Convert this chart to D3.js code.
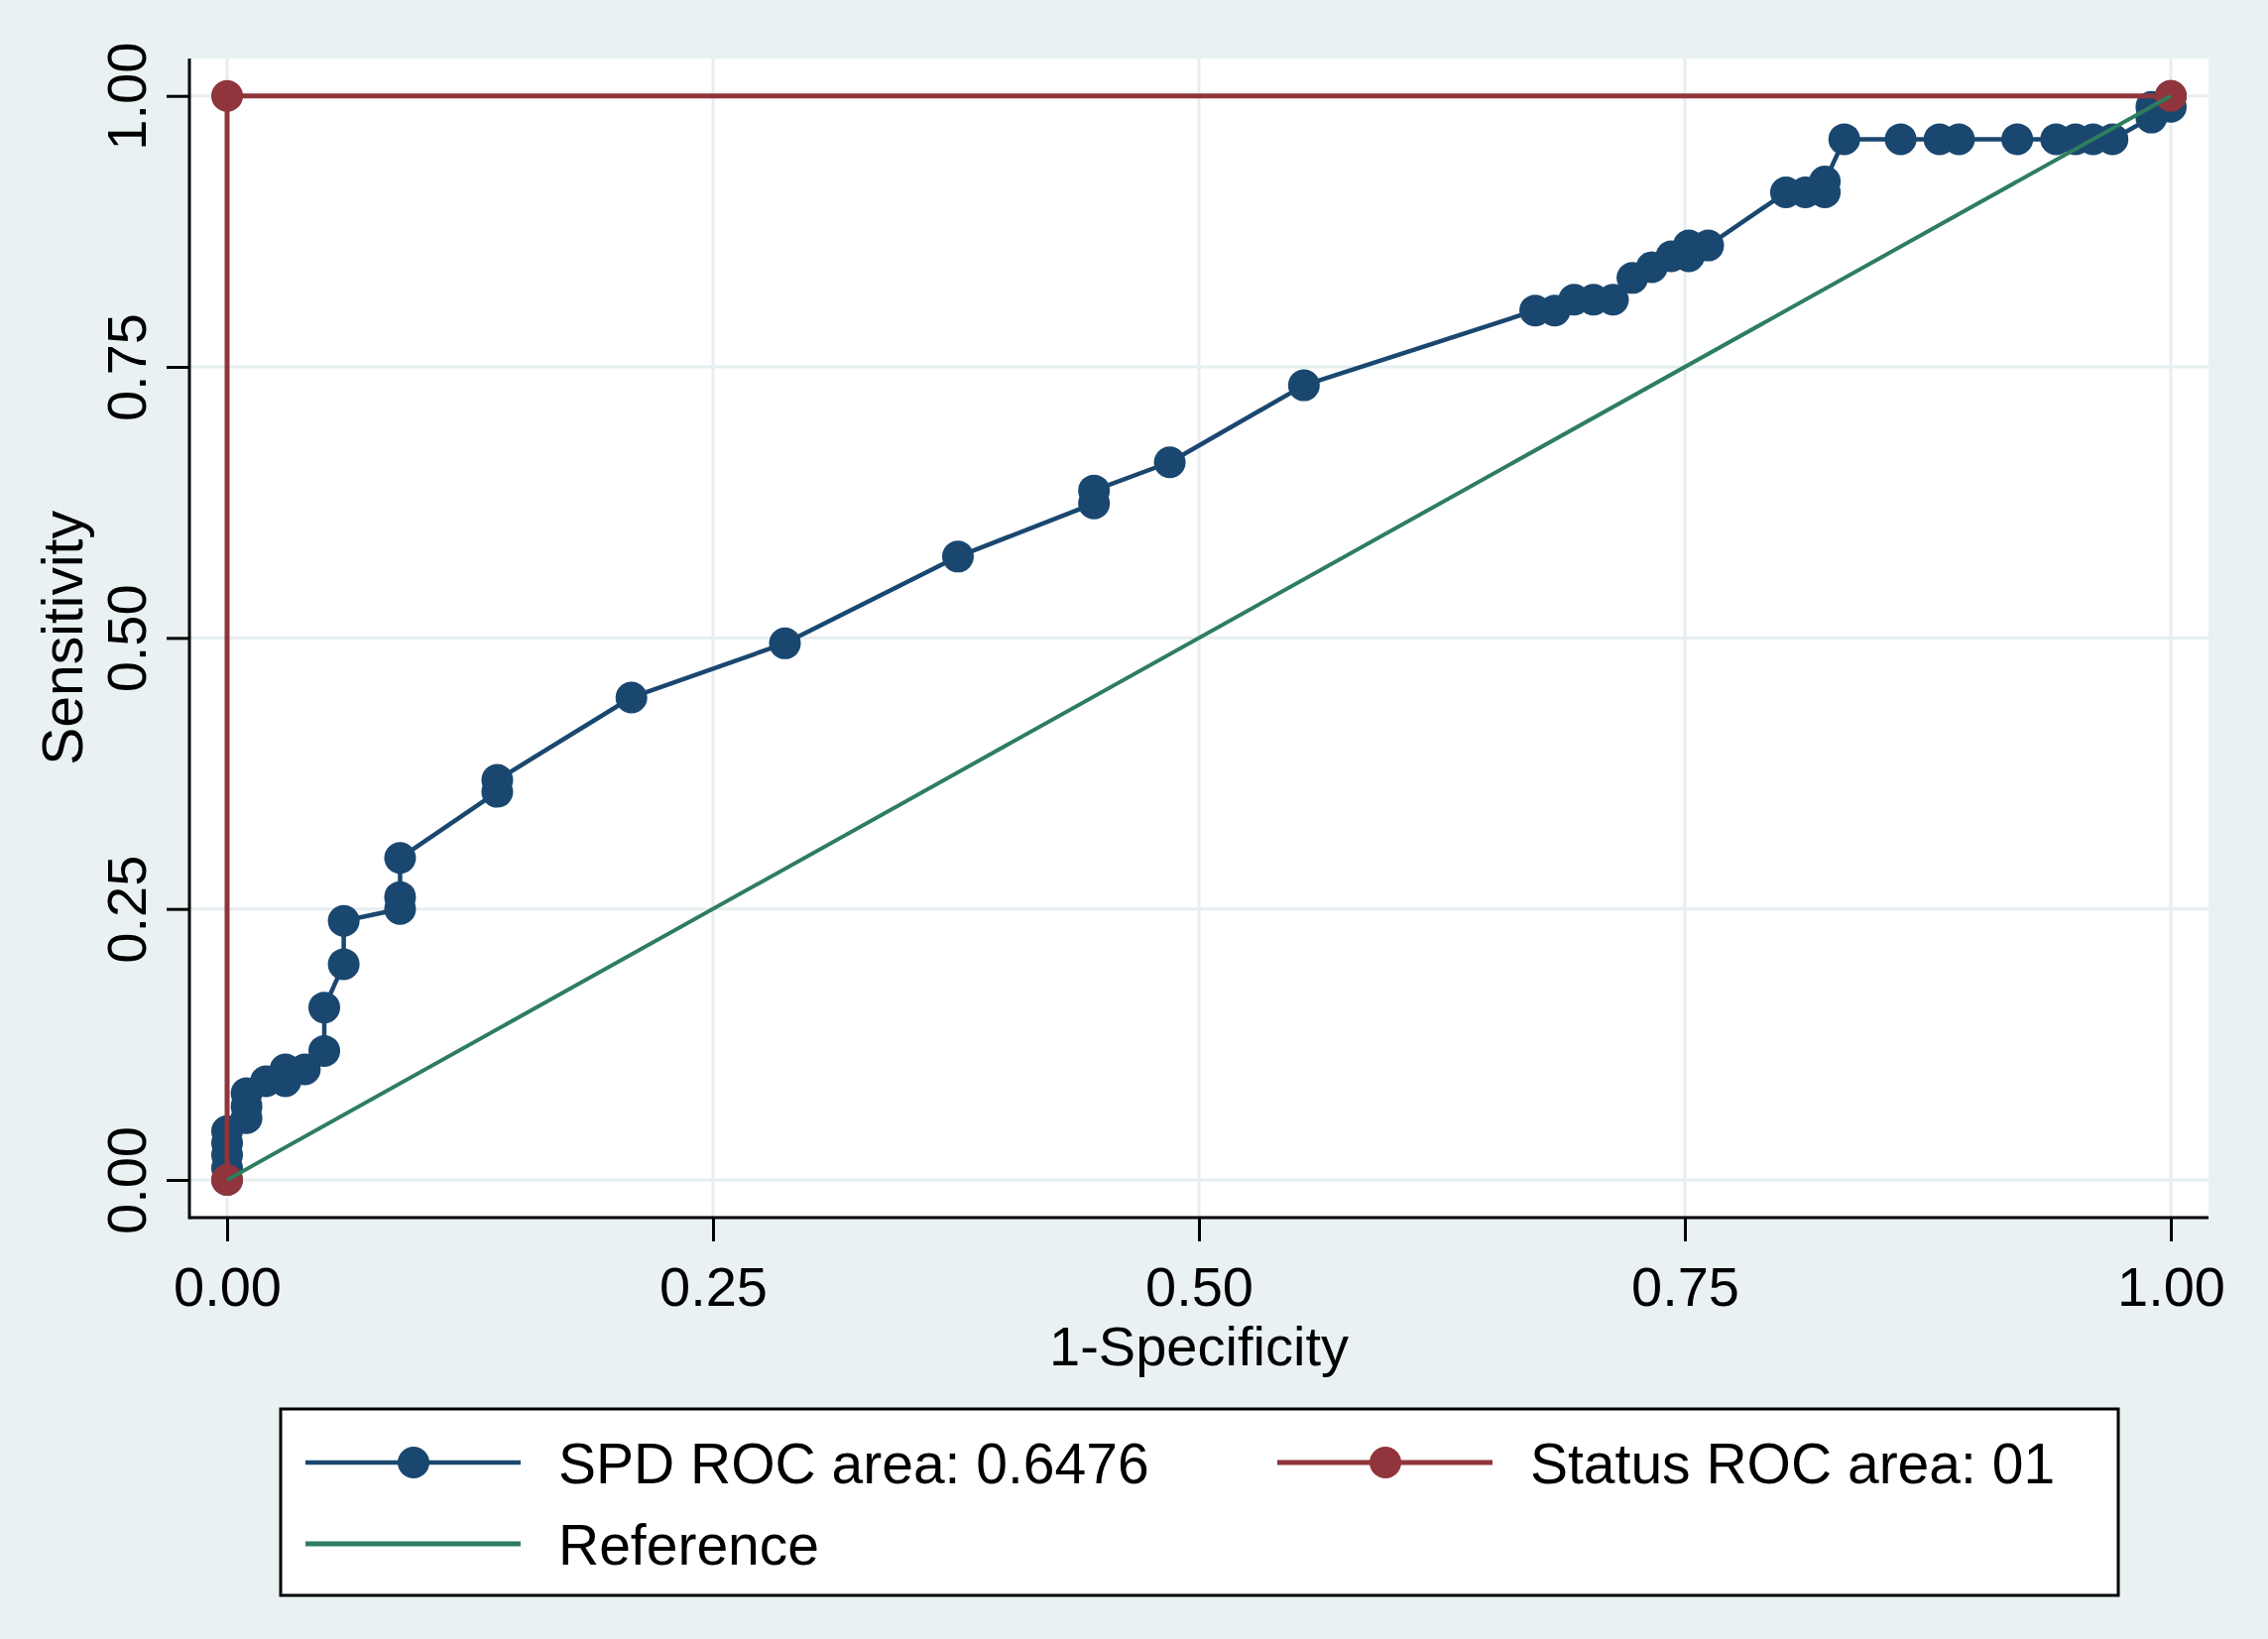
<!DOCTYPE html>
<html>
<head>
<meta charset="utf-8">
<script src="https://cdn.jsdelivr.net/npm/d3@7"></script>
<style>
  html, body { margin: 0; padding: 0; background: #E9F1F3; }
  svg { display: block; }
  text { font-family: "Liberation Sans", Arial, sans-serif; fill: #000; }
</style>
</head>
<body>
<svg id="chart" width="2287" height="1653"></svg>
<script>
// ---- Data ----
const spdX = [0, 0, 0, 0, 0,
  0.010, 0.010, 0.010,
  0.020,
  0.030, 0.030,
  0.040,
  0.050, 0.050,
  0.060, 0.060,
  0.089, 0.089, 0.089,
  0.139, 0.139,
  0.208,
  0.287,
  0.376,
  0.446, 0.446,
  0.485,
  0.554,
  0.673, 0.683,
  0.693, 0.703, 0.713,
  0.723, 0.733, 0.743, 0.752, 0.752, 0.762,
  0.802, 0.812, 0.822, 0.822,
  0.832, 0.861, 0.881, 0.891, 0.921, 0.941, 0.951, 0.960, 0.970,
  0.990, 0.990, 1.000, 1.000];
const spdY = [0, 0.011, 0.023, 0.034, 0.045,
  0.057, 0.068, 0.080,
  0.091,
  0.091, 0.102,
  0.102,
  0.119, 0.159,
  0.199, 0.239,
  0.250, 0.261, 0.297,
  0.358, 0.369,
  0.445,
  0.495,
  0.575,
  0.624, 0.636,
  0.662,
  0.733,
  0.802, 0.802,
  0.812, 0.812, 0.812,
  0.832, 0.842, 0.852, 0.852, 0.862, 0.862,
  0.911, 0.911, 0.911, 0.921,
  0.960, 0.960, 0.960, 0.960, 0.960, 0.960, 0.960, 0.960, 0.960,
  0.980, 0.990, 0.990, 1.000];
const statusX = [0, 0, 1];
const statusY = [0, 1, 1];
const refX = [0, 1];
const refY = [0, 1];
const tickValues = [0, 0.25, 0.5, 0.75, 1];
const tickLabels = ["0.00", "0.25", "0.50", "0.75", "1.00"];
const xTitle = "1-Specificity";
const yTitle = "Sensitivity";
const legendLabels = ["SPD ROC area: 0.6476", "Status ROC area: 01", "Reference"];

// ---- Styles ----
const C_BG = "#E9F1F3", C_GRID = "#E6EEF1";
const C_SPD = "#1A476F", C_STATUS = "#90353B", C_REF = "#2E7D5F";

const svg = d3.select("#chart");
svg.append("rect").attr("width", 2287).attr("height", 1653).attr("fill", C_BG);

const plot = { left: 191, right: 2227, top: 59, bottom: 1228 };
const x = d3.scaleLinear().domain([0, 1]).range([229, 2189]);
const y = d3.scaleLinear().domain([0, 1]).range([1190, 96.7]);

// plot region
svg.append("rect").attr("x", plot.left).attr("y", plot.top)
  .attr("width", plot.right - plot.left).attr("height", plot.bottom - plot.top)
  .attr("fill", "#fff");

// gridlines
const grid = svg.append("g");
grid.selectAll("line.gx").data(tickValues).enter().append("line")
  .attr("x1", d => x(d)).attr("x2", d => x(d))
  .attr("y1", plot.top).attr("y2", plot.bottom)
  .attr("stroke", C_GRID).attr("stroke-width", 3);
grid.selectAll("line.gy").data(tickValues).enter().append("line")
  .attr("y1", d => y(d)).attr("y2", d => y(d))
  .attr("x1", plot.left).attr("x2", plot.right)
  .attr("stroke", C_GRID).attr("stroke-width", 3);

// axes
const xAxis = d3.axisBottom(x).tickValues(tickValues)
  .tickFormat((d, i) => tickLabels[i]).tickSize(24).tickPadding(0);
const gx = svg.append("g").attr("transform", `translate(0,${plot.bottom})`).call(xAxis);
gx.select(".domain").remove();
gx.append("line").attr("x1", plot.left).attr("x2", plot.right).attr("y1", 0).attr("y2", 0)
  .attr("stroke", "#000").attr("stroke-width", 3);
gx.selectAll(".tick line").attr("stroke", "#000").attr("stroke-width", 3);
gx.selectAll(".tick text").attr("y", 89).attr("dy", null)
  .style("font-size", "56px").attr("fill", "#000")
  .style("font-family", '"Liberation Sans", Arial, sans-serif');

const yAxis = d3.axisLeft(y).tickValues(tickValues)
  .tickFormat((d, i) => tickLabels[i]).tickSize(23).tickPadding(0);
const gy = svg.append("g").attr("transform", `translate(${plot.left},0)`).call(yAxis);
gy.select(".domain").remove();
gy.append("line").attr("y1", plot.top).attr("y2", plot.bottom + 1.5).attr("x1", 0).attr("x2", 0)
  .attr("stroke", "#000").attr("stroke-width", 3);
gy.selectAll(".tick line").attr("stroke", "#000").attr("stroke-width", 3);
gy.selectAll(".tick text")
  .attr("x", null).attr("dy", null)
  .attr("transform", "translate(-44,0) rotate(-90)")
  .attr("text-anchor", "middle")
  .style("font-size", "56px").attr("fill", "#000")
  .style("font-family", '"Liberation Sans", Arial, sans-serif');

// axis titles
svg.append("text").attr("x", (x(0) + x(1)) / 2).attr("y", 1377)
  .attr("text-anchor", "middle").style("font-size", "56px").text(xTitle);
svg.append("text")
  .attr("transform", `translate(83,${(y(0) + y(1)) / 2}) rotate(-90)`)
  .attr("text-anchor", "middle").style("font-size", "57px").text(yTitle);

// series
const line = d3.line().x(d => x(d[0])).y(d => y(d[1]));
const spd = spdX.map((v, i) => [v, spdY[i]]);
const status = statusX.map((v, i) => [v, statusY[i]]);
const ref = refX.map((v, i) => [v, refY[i]]);
const R = 16;

svg.append("path").datum(spd).attr("d", line).attr("fill", "none")
  .attr("stroke", C_SPD).attr("stroke-width", 4.5).attr("stroke-linejoin", "round");
svg.append("g").selectAll("circle").data(spd).enter().append("circle")
  .attr("cx", d => x(d[0])).attr("cy", d => y(d[1])).attr("r", R).attr("fill", C_SPD);

svg.append("path").datum(status).attr("d", line).attr("fill", "none")
  .attr("stroke", C_STATUS).attr("stroke-width", 5);
svg.append("g").selectAll("circle").data(status).enter().append("circle")
  .attr("cx", d => x(d[0])).attr("cy", d => y(d[1])).attr("r", R).attr("fill", C_STATUS);

svg.append("path").datum(ref).attr("d", line).attr("fill", "none")
  .attr("stroke", C_REF).attr("stroke-width", 4);

// legend
const lg = svg.append("g");
lg.append("rect").attr("x", 283).attr("y", 1421).attr("width", 2136 - 283).attr("height", 1609 - 1421)
  .attr("fill", "#fff").attr("stroke", "#000").attr("stroke-width", 3);
const legendItems = [
  { label: legendLabels[0], color: C_SPD, marker: true, lx: 308, tx: 563, cy: 1475, w: 4.5 },
  { label: legendLabels[1], color: C_STATUS, marker: true, lx: 1288, tx: 1543, cy: 1475, w: 5 },
  { label: legendLabels[2], color: C_REF, marker: false, lx: 308, tx: 563, cy: 1557, w: 5 }
];
legendItems.forEach(it => {
  lg.append("line").attr("x1", it.lx).attr("x2", it.lx + 217)
    .attr("y1", it.cy).attr("y2", it.cy).attr("stroke", it.color).attr("stroke-width", it.w);
  if (it.marker) {
    lg.append("circle").attr("cx", it.lx + 109).attr("cy", it.cy).attr("r", R).attr("fill", it.color);
  }
  lg.append("text").attr("x", it.tx).attr("y", it.cy + 21)
    .style("font-size", "57px").text(it.label);
});
</script>
</body>
</html>
